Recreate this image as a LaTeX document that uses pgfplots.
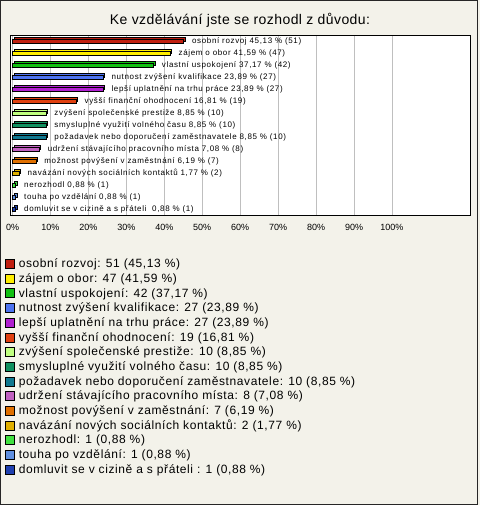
\documentclass[border=0pt]{standalone}
\usepackage{fontspec}
\setmainfont{Liberation Sans}
\newfontfamily\lblfont[LetterSpace=8]{Liberation Sans}
\newfontfamily\legfont[LetterSpace=5]{Liberation Sans}
\newfontfamily\titfont[LetterSpace=3]{Liberation Sans}
\usepackage{pgfplots}
\pgfplotsset{compat=1.18}
\definecolor{bgc}{HTML}{F3F2EA}
\definecolor{c1}{HTML}{C01F10}
\definecolor{c2}{HTML}{FFEE00}
\definecolor{c3}{HTML}{11C011}
\definecolor{c4}{HTML}{4D73F0}
\definecolor{c5}{HTML}{B020D0}
\definecolor{c6}{HTML}{E04010}
\definecolor{c7}{HTML}{C0FF80}
\definecolor{c8}{HTML}{109060}
\definecolor{c9}{HTML}{107890}
\definecolor{c10}{HTML}{C060C0}
\definecolor{c11}{HTML}{E07000}
\definecolor{c12}{HTML}{E0B000}
\definecolor{c13}{HTML}{40E040}
\definecolor{c14}{HTML}{6090E0}
\definecolor{c15}{HTML}{2040B0}
\pgfplotsset{
  mylegend/.style={legend image code/.code={\draw[##1,line width=0.8pt] (0pt,-4.5pt) rectangle (9pt,4.5pt);}},
}
\newcommand{\mybar}[5]{%
  \addplot[fill=#3, draw=black, line width=0.8pt, xshift=1.5pt, yshift=1.5pt, forget plot] coordinates {(#1,#2) []};
  \addplot[fill=#3, draw=black, line width=0.8pt, mylegend] coordinates {(#1,#2) [#4]};
  \addlegendentry{#5}
}
\begin{document}
\begin{tikzpicture}
\fill[bgc] (0pt,0pt) rectangle (480pt,505pt);
\draw[black!85, line width=1pt] (0.5pt,0.5pt) rectangle (477.5pt,504.5pt);
\node[font=\titfont\fontsize{14}{16}\selectfont] at (240pt,485pt) {Ke vzdělávání jste se rozhodl z důvodu:};
\begin{axis}[
  at={(10pt,290pt)}, anchor=south west,
  width=460pt, height=180pt, scale only axis,
  xbar, bar width=4pt, bar shift=0pt,
  xmin=-0.66, xmax=120.56, ymin=0.5, ymax=15.5, y dir=reverse,
  axis background/.style={fill=white},
  axis line style={black, line width=0.8pt},
  ytick=\empty,
  xtick={0,10,...,100},
  xticklabels={0\%,10\%,20\%,30\%,40\%,50\%,60\%,70\%,80\%,90\%,100\%},
  xticklabel style={font=\fontsize{9}{10}\selectfont, inner sep=0pt, anchor=north, yshift=-9pt},
  major tick length=0pt,
  xmajorgrids, grid style={line width=0.8pt, color=black!25},
  clip=false,
  nodes near coords, point meta=explicit symbolic,
  every node near coord/.append style={font=\lblfont\fontsize{8}{9}\selectfont, text=black, inner sep=0pt, anchor=west, xshift=8pt},
  legend cell align=left,
  legend style={at={(axis description cs:-0.0109,-0.2311)}, anchor=north west, draw=none, fill=none,
    inner sep=0pt, outer sep=0pt, row sep=0pt, column sep=4pt,
    font=\legfont\fontsize{12}{14}\selectfont,
    nodes={inner sep=0pt, minimum height=14.7pt}},
]
\mybar{45.13}{1}{c1}{osobní rozvoj 45,13 \% (51)}{osobní rozvoj: 51 (45,13 \%)}
\mybar{41.59}{2}{c2}{zájem o obor 41,59 \% (47)}{zájem o obor: 47 (41,59 \%)}
\mybar{37.17}{3}{c3}{vlastní uspokojení 37,17 \% (42)}{vlastní uspokojení: 42 (37,17 \%)}
\mybar{23.89}{4}{c4}{nutnost zvýšení kvalifikace 23,89 \% (27)}{nutnost zvýšení kvalifikace: 27 (23,89 \%)}
\mybar{23.89}{5}{c5}{lepší uplatnění na trhu práce 23,89 \% (27)}{lepší uplatnění na trhu práce: 27 (23,89 \%)}
\mybar{16.81}{6}{c6}{vyšší finanční ohodnocení 16,81 \% (19)}{vyšší finanční ohodnocení: 19 (16,81 \%)}
\mybar{8.85}{7}{c7}{zvýšení společenské prestiže 8,85 \% (10)}{zvýšení společenské prestiže: 10 (8,85 \%)}
\mybar{8.85}{8}{c8}{smysluplné využití volného času 8,85 \% (10)}{smysluplné využití volného času: 10 (8,85 \%)}
\mybar{8.85}{9}{c9}{požadavek nebo doporučení zaměstnavatele 8,85 \% (10)}{požadavek nebo doporučení zaměstnavatele: 10 (8,85 \%)}
\mybar{7.08}{10}{c10}{udržení stávajícího pracovního místa 7,08 \% (8)}{udržení stávajícího pracovního místa: 8 (7,08 \%)}
\mybar{6.19}{11}{c11}{možnost povýšení v zaměstnání 6,19 \% (7)}{možnost povýšení v zaměstnání: 7 (6,19 \%)}
\mybar{1.77}{12}{c12}{navázání nových sociálních kontaktů 1,77 \% (2)}{navázání nových sociálních kontaktů: 2 (1,77 \%)}
\mybar{0.88}{13}{c13}{nerozhodl 0,88 \% (1)}{nerozhodl: 1 (0,88 \%)}
\mybar{0.88}{14}{c14}{touha po vzdělání 0,88 \% (1)}{touha po vzdělání: 1 (0,88 \%)}
\mybar{0.88}{15}{c15}{domluvit se v cizině a s přáteli\ \ 0,88 \% (1)}{domluvit se v cizině a s přáteli : 1 (0,88 \%)}
\end{axis}
\pgfresetboundingbox
\useasboundingbox (0pt,0pt) rectangle (480pt,505pt);
\end{tikzpicture}
\end{document}
